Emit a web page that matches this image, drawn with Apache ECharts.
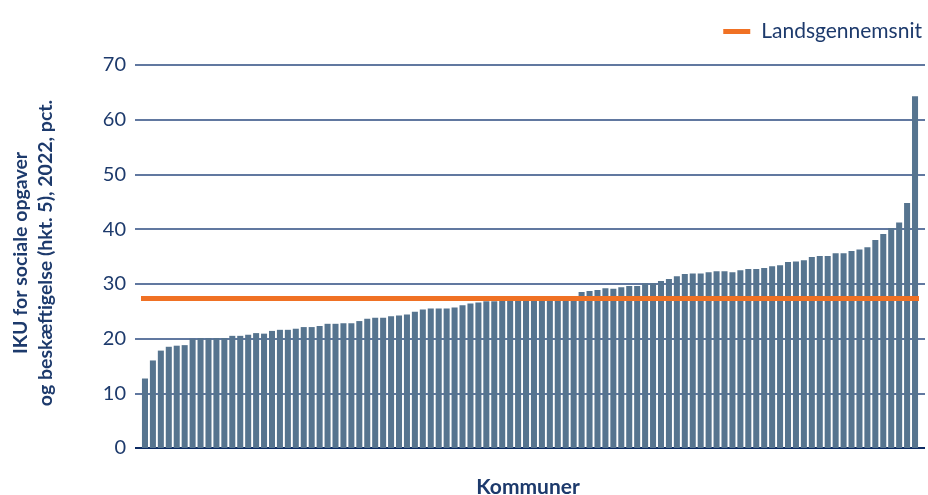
<!DOCTYPE html>
<html>
<head>
<meta charset="utf-8">
<script src="https://cdn.jsdelivr.net/npm/echarts@6/dist/echarts.min.js"></script>
<style>
html,body{margin:0;padding:0;background:#fff;}
#c{width:928px;height:495px;}
</style>
</head>
<body>
<div id="c"></div>
<script>
// Data (sorted municipalities)
const values = [
  12.7, 16.0, 17.8, 18.5, 18.7, 18.8, 20.0, 20.1, 20.1, 20.1,
  20.1, 20.5, 20.5, 20.7, 21.0, 20.9, 21.4, 21.6, 21.6, 21.8,
  22.1, 22.1, 22.3, 22.7, 22.7, 22.8, 22.8, 23.2, 23.6, 23.8,
  23.8, 24.1, 24.2, 24.4, 24.9, 25.3, 25.5, 25.5, 25.5, 25.7,
  26.1, 26.4, 26.6, 26.8, 26.8, 27.0, 27.1, 27.2, 27.3, 27.4,
  27.5, 27.6, 27.7, 27.7, 27.8, 28.5, 28.7, 28.9, 29.2, 29.1,
  29.4, 29.6, 29.6, 30.1, 30.1, 30.5, 30.9, 31.4, 31.8, 31.9,
  31.9, 32.1, 32.3, 32.3, 32.1, 32.5, 32.7, 32.7, 32.9, 33.2,
  33.4, 34.0, 34.1, 34.3, 34.9, 35.1, 35.1, 35.6, 35.6, 36.0,
  36.3, 36.7, 38.0, 39.1, 40.2, 41.2, 44.8, 64.3
];
const categories = values.map((v, i) => 'Kommune ' + (i + 1));
const nationalAverage = 27.4;
const yTicks = [0, 10, 20, 30, 40, 50, 60, 70];

const NAVY = '#1d3a6c';
const FONT = 'Lato';

const chart = echarts.init(document.getElementById('c'), null, {renderer: 'canvas'});
chart.setOption({
  animation: false,
  backgroundColor: '#ffffff',
  textStyle: {fontFamily: FONT},
  legend: {
    right: 1, top: 16,
    data: [{name: 'Landsgennemsnit', icon: 'rect'}],
    itemWidth: 27, itemHeight: 5, itemGap: 10,
    textStyle: {color: NAVY, fontSize: 21, fontFamily: FONT, padding: [0, 0, 0, 6]}
  },
  grid: [
    {left: 135, right: 3, top: 65, bottom: 47, containLabel: false},
    {left: 141, right: 9, top: 65, bottom: 47, containLabel: false}
  ],
  xAxis: [
    {gridIndex: 0, type: 'value', min: 0, max: 1, show: false},
    {
      gridIndex: 1, type: 'category', data: categories,
      axisLine: {show: false}, axisTick: {show: false}, axisLabel: {show: false},
      splitLine: {show: false}
    }
  ],
  yAxis: [
    {
      gridIndex: 0, type: 'value', min: yTicks[0], max: yTicks[yTicks.length - 1], interval: 10,
      axisLine: {show: false}, axisTick: {show: false},
      axisLabel: {color: NAVY, fontSize: 20, fontFamily: FONT, margin: 9},
      splitLine: {show: true, lineStyle: {color: '#2c4b80', width: 1.5}}
    },
    {
      gridIndex: 1, type: 'value', min: yTicks[0], max: yTicks[yTicks.length - 1], interval: 10,
      show: false, splitLine: {show: false}
    }
  ],
  graphic: [
    {
      type: 'text', x: 33, y: 253, rotation: Math.PI / 2,
      style: {
        text: 'IKU for sociale opgaver\nog beskæftigelse (hkt. 5), 2022, pct.',
        fill: NAVY, font: 'bold 19.5px Lato', textAlign: 'center', textVerticalAlign: 'middle',
        lineHeight: 25
      }
    },
    {
      type: 'text', x: 528, y: 487,
      style: {
        text: 'Kommuner', fill: NAVY, font: 'bold 21px Lato',
        textAlign: 'center', textVerticalAlign: 'middle'
      }
    },
    {
      type: 'line', shape: {x1: 135, y1: 448, x2: 925, y2: 448},
      style: {stroke: '#0d2b63', lineWidth: 2}, z: 1
    }
  ],
  series: [
    {
      name: 'IKU', type: 'bar', xAxisIndex: 1, yAxisIndex: 1,
      data: values, barCategoryGap: '24%',
      itemStyle: {color: '#56748f'}, z: 3
    },
    {
      name: 'Landsgennemsnit', type: 'line', xAxisIndex: 1, yAxisIndex: 1,
      data: [], color: '#f07124', z: 5,
      markLine: {
        silent: true, symbol: ['none', 'none'],
        label: {show: false},
        lineStyle: {color: '#f07124', width: 5, type: 'solid'},
        data: [{yAxis: nationalAverage}]
      }
    }
  ]
});
</script>
</body>
</html>
